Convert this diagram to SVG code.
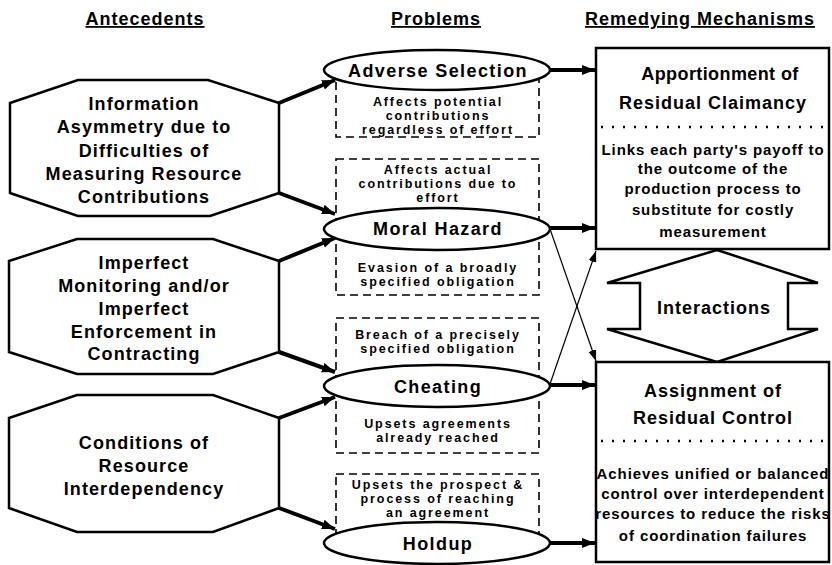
<svg xmlns="http://www.w3.org/2000/svg" width="832" height="565" viewBox="0 0 832 565">
<style>
text{font-family:"Liberation Sans",Arial,Helvetica,sans-serif;font-weight:bold;fill:#000;text-anchor:middle}
.hdr{font-size:18px;letter-spacing:1px;text-decoration:underline}
.oct{font-size:18px;letter-spacing:1.1px}
.ell{font-size:18px;letter-spacing:1.4px}
.dsh{font-size:12.5px;letter-spacing:1.9px}
.ttl{font-size:18px;letter-spacing:1px}
.bdy{font-size:15px;letter-spacing:0.9px}
.shape{fill:#fff;stroke:#000;stroke-width:2.5}
.dbox{fill:none;stroke:#000;stroke-width:1.6;stroke-dasharray:8 5}
.dots{stroke:#000;stroke-width:2.5;stroke-dasharray:2 9}
.thick{stroke:#000;stroke-width:4;fill:none}
.thin{stroke:#000;stroke-width:1.2;fill:none}
</style>
<defs>
<marker id="ah" markerUnits="userSpaceOnUse" markerWidth="14" markerHeight="12" refX="13" refY="5" orient="auto">
<path d="M0,0 L13,5 L0,10 z" fill="#000"/>
</marker>
<marker id="ahs" markerUnits="userSpaceOnUse" markerWidth="12" markerHeight="10" refX="11" refY="4" orient="auto">
<path d="M0,0 L11,4 L0,8 z" fill="#000"/>
</marker>
</defs>
<g id="headers">
<text class="hdr" x="145" y="25">Antecedents</text>
<text class="hdr" x="436" y="25">Problems</text>
<text class="hdr" x="700" y="25">Remedying Mechanisms</text>
</g>
<g id="dashed-boxes">
<rect class="dbox" x="336" y="70" width="203" height="67"/>
<rect class="dbox" x="336" y="159" width="203" height="136"/>
<rect class="dbox" x="336" y="318" width="203" height="135"/>
<rect class="dbox" x="336" y="474" width="203" height="69"/>
</g>
<g id="connectors">
<line class="thick" x1="279" y1="103" x2="335" y2="80" marker-end="url(#ah)"/>
<line class="thick" x1="279" y1="193" x2="335" y2="214" marker-end="url(#ah)"/>
<line class="thick" x1="279" y1="261" x2="335" y2="238" marker-end="url(#ah)"/>
<line class="thick" x1="279" y1="352" x2="335" y2="372" marker-end="url(#ah)"/>
<line class="thick" x1="279" y1="418" x2="335" y2="397" marker-end="url(#ah)"/>
<line class="thick" x1="279" y1="508" x2="335" y2="529" marker-end="url(#ah)"/>
<line class="thick" x1="550" y1="70" x2="595" y2="70" marker-end="url(#ah)"/>
<line class="thick" x1="550" y1="228" x2="595" y2="228" marker-end="url(#ah)"/>
<line class="thick" x1="550" y1="385" x2="595" y2="385" marker-end="url(#ah)"/>
<line class="thick" x1="550" y1="543" x2="595" y2="543" marker-end="url(#ah)"/>
<line class="thin" x1="550" y1="229" x2="596" y2="361" marker-end="url(#ahs)"/>
<line class="thin" x1="550" y1="384" x2="596" y2="251" marker-end="url(#ahs)"/>
</g>
<g id="info-asymmetry">
<polygon class="shape" points="10,103 78,80 208,80 279,103 279,193 210,216 78,216 10,193"/>
<text class="oct" x="144" y="110">Information</text>
<text class="oct" x="144" y="133">Asymmetry due to</text>
<text class="oct" x="144" y="157">Difficulties of</text>
<text class="oct" x="144" y="180">Measuring Resource</text>
<text class="oct" x="144" y="203">Contributions</text>
</g>
<g id="imperfect-monitoring">
<polygon class="shape" points="9,261 77,239 213,239 279,261 279,352 213,374 77,374 9,352"/>
<text class="oct" x="144" y="268.5">Imperfect</text>
<text class="oct" x="144" y="291.5">Monitoring and/or</text>
<text class="oct" x="144" y="314.5">Imperfect</text>
<text class="oct" x="144" y="337.5">Enforcement in</text>
<text class="oct" x="144" y="360">Contracting</text>
</g>
<g id="resource-interdependency">
<polygon class="shape" points="9,418 77,395 213,395 279,418 279,508 213,532 77,532 9,508"/>
<text class="oct" x="144" y="448.5">Conditions of</text>
<text class="oct" x="144" y="471.5">Resource</text>
<text class="oct" x="144" y="494.5">Interdependency</text>
</g>
<g id="adverse-selection">
<ellipse class="shape" cx="437" cy="70" rx="113" ry="20"/>
<text class="ell" x="438" y="76.5">Adverse Selection</text>
<text class="dsh" x="438" y="106">Affects potential</text>
<text class="dsh" x="438" y="120">contributions</text>
<text class="dsh" x="438" y="134">regardless of effort</text>
</g>
<g id="moral-hazard">
<text class="dsh" x="438" y="174">Affects actual</text>
<text class="dsh" x="438" y="188">contributions due to</text>
<text class="dsh" x="438" y="202">effort</text>
<ellipse class="shape" cx="437" cy="229" rx="113" ry="21"/>
<text class="ell" x="438" y="235">Moral Hazard</text>
<text class="dsh" x="438" y="272">Evasion of a broadly</text>
<text class="dsh" x="438" y="286">specified obligation</text>
</g>
<g id="cheating">
<text class="dsh" x="438" y="339">Breach of a precisely</text>
<text class="dsh" x="438" y="353">specified obligation</text>
<ellipse class="shape" cx="437" cy="386" rx="113" ry="21"/>
<text class="ell" x="438" y="392.5">Cheating</text>
<text class="dsh" x="438" y="428">Upsets agreements</text>
<text class="dsh" x="438" y="442">already reached</text>
</g>
<g id="holdup">
<text class="dsh" x="438" y="489">Upsets the prospect &amp;</text>
<text class="dsh" x="438" y="503">process of reaching</text>
<text class="dsh" x="438" y="517">an agreement</text>
<ellipse class="shape" cx="437" cy="543" rx="113" ry="21"/>
<text class="ell" x="438" y="549.5">Holdup</text>
</g>
<g id="residual-claimancy">
<rect class="shape" x="596" y="48" width="233" height="201"/>
<text class="ttl" x="720" y="79.5" style="letter-spacing:0.4px">Apportionment of</text>
<text class="ttl" x="713" y="108.5">Residual Claimancy</text>
<line class="dots" x1="601" y1="127" x2="829" y2="127"/>
<text class="bdy" x="713" y="155">Links each party's payoff to</text>
<text class="bdy" x="713" y="174">the outcome of the</text>
<text class="bdy" x="713" y="194">production process to</text>
<text class="bdy" x="713" y="215">substitute for costly</text>
<text class="bdy" x="713" y="237">measurement</text>
</g>
<g id="interactions">
<polygon class="shape" points="717,250 818,283 788,283 788,329 818,329 717,362 607,329 640,329 640,283 607,283"/>
<text class="ttl" x="714" y="313.5">Interactions</text>
</g>
<g id="residual-control">
<rect class="shape" x="596" y="362" width="233" height="200"/>
<text class="ttl" x="713" y="396.5">Assignment of</text>
<text class="ttl" x="713" y="423.5">Residual Control</text>
<line class="dots" x1="601" y1="441" x2="829" y2="441"/>
<text class="bdy" x="713" y="478.5">Achieves unified or balanced</text>
<text class="bdy" x="713" y="498.5">control over interdependent</text>
<text class="bdy" x="713" y="518.5">resources to reduce the risks</text>
<text class="bdy" x="713" y="540.5">of coordination failures</text>
</g>
</svg>
